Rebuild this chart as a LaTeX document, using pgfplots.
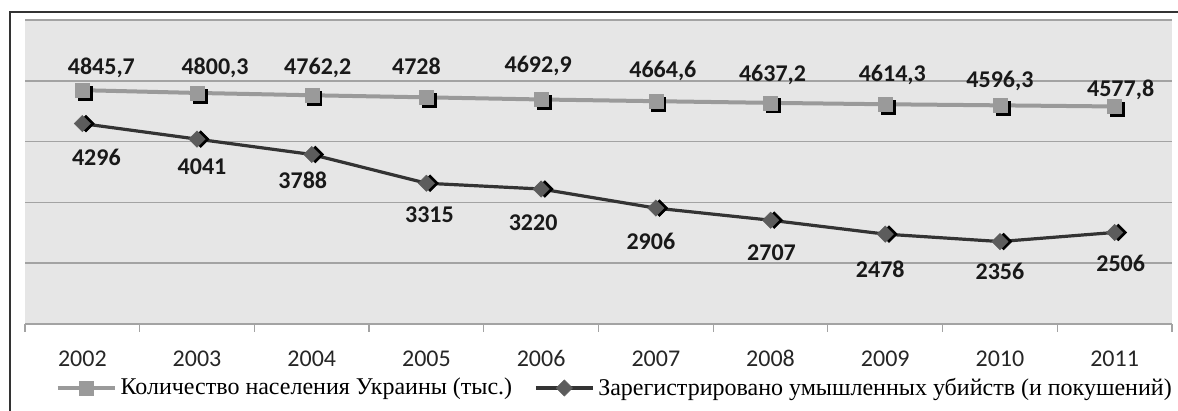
\documentclass[border=0pt]{standalone}
\usepackage{fontspec}
\setmainfont{Liberation Serif}
\newfontfamily\calib{Carlito}
\usepackage{pgfplots}
\pgfplotsset{compat=1.18}
\usepackage{pgfplotstable}

\definecolor{bg}{HTML}{E6E6E6}
\definecolor{gridc}{HTML}{A3A3A3}
\definecolor{popc}{HTML}{9A9A9A}
\definecolor{murc}{HTML}{333333}
\definecolor{murm}{HTML}{5C5C5C}
\definecolor{framec}{HTML}{333333}

\pgfplotstableread{
year val lab dx dy
2002 4845.7 4845,7 9.5 11.5
2003 4800.3 4800,3 9 13
2004 4762.2 4762,2 3 14
2005 4728 4728 -5 15
2006 4692.9 4692,9 -1.5 17
2007 4664.6 4664,6 3.5 15.5
2008 4637.2 4637,2 1 14.5
2009 4614.3 4614,3 3.5 15
2010 4596.3 4596,3 0 12.5
2011 4577.8 4577,8 3 8.5
}\pop

\pgfplotstableread{
year val lab dx dy
2002 4296 4296 7 -17
2003 4041 4041 2.5 -13.75
2004 3788 3788 -4.5 -13.5
2005 3315 3315 1.5 -16
2006 3220 3220 -4 -17
2007 2906 2906 -2.5 -17
2008 2707 2707 0.5 -16.5
2009 2478 2478 -2.5 -18
2010 2356 2356 0 -15.5
2011 2506 2506 3 -16
}\mur

\begin{document}
\begin{tikzpicture}
\useasboundingbox (-12.5pt,-43.5pt) rectangle (576.5pt,162pt);
\draw[framec, line width=1pt] (-7.5pt,-50pt) -- (-7.5pt,156pt) -- (590pt,156pt);
\begin{axis}[
  at={(0,0)}, anchor=south west,
  width=573.5pt, height=152pt, scale only axis,
  xmin=2001.5, xmax=2011.5, ymin=1000, ymax=6000,
  xtick={2002,2003,...,2011},
  minor xtick={2001.5,2002.5,...,2011.5},
  ytick={1000,2000,...,6000}, yticklabels={},
  ymajorgrids, major grid style={gridc, line width=0.8pt},
  separate axis lines,
  y axis line style={draw=none},
  x axis line style={gridc, line width=0.8pt, -},
  axis background/.style={fill=bg},
  tick align=outside, major tick length=0pt, minor tick length=4pt,
  every minor tick/.append style={gridc, line width=0.6pt},
  xtick pos=bottom, ytick style={draw=none},
  xticklabel style={font=\calib\fontsize{12}{12}\selectfont, text=black!85, anchor=center,
    text height=7pt, text depth=0pt, inner sep=0pt, yshift=-18pt},
  /pgf/number format/1000 sep={},
  /pgf/number format/assume math mode=true,
  legend columns=2,
  legend style={draw=none, fill=none, at={([yshift=-32pt]axis description cs:0.515,0)}, anchor=center,
    font=\fontsize{12}{14}\selectfont,
    /tikz/every even column/.append style={column sep=9pt}},
  legend image code/.code={\draw[mark repeat=2,mark phase=2] plot coordinates {(0cm,0cm) (0.5cm,0cm) (1cm,0cm)};},
  clip=false,
]
% shadows
\addplot[forget plot, draw=none, mark=square*, mark size=3.5pt,
  mark options={fill=black, draw=black, xshift=1.5pt, yshift=-1.5pt}] table[x=year,y=val]{\pop};
\addplot[forget plot, draw=none, mark=square*, mark size=2.9pt,
  mark options={fill=black, draw=black, rotate=45, xshift=1.3pt, yshift=-1.3pt}] table[x=year,y=val]{\mur};
% series
\addplot[popc, line width=2pt, mark=square*, mark size=3.5pt,
  mark options={fill=popc, draw=popc, line width=0.2pt},
  nodes near coords, point meta=explicit symbolic,
  visualization depends on={\thisrow{dx} \as \dx},
  visualization depends on={\thisrow{dy} \as \dy},
  nodes near coords style={anchor=center, text height=7.4pt, text depth=0pt, inner sep=0pt,
    xshift=\dx pt, yshift=\dy pt, text=black!90,
    font=\calib\bfseries\fontsize{12}{12}\selectfont}]
  table[x=year,y=val,meta=lab]{\pop};
\addlegendentry{Количество населения Украины (тыс.)}
\addplot[murc, line width=1.6pt, mark=square*, mark size=2.9pt,
  mark options={fill=murm, draw=murm, rotate=45, line width=0.2pt},
  nodes near coords, point meta=explicit symbolic,
  visualization depends on={\thisrow{dx} \as \dx},
  visualization depends on={\thisrow{dy} \as \dy},
  nodes near coords style={anchor=center, text height=7.4pt, text depth=0pt, inner sep=0pt,
    xshift=\dx pt, yshift=\dy pt, text=black!90,
    font=\calib\bfseries\fontsize{12}{12}\selectfont}]
  table[x=year,y=val,meta=lab]{\mur};
\addlegendentry{Зарегистрировано умышленных убийств (и покушений)}
\end{axis}
\end{tikzpicture}
\end{document}
